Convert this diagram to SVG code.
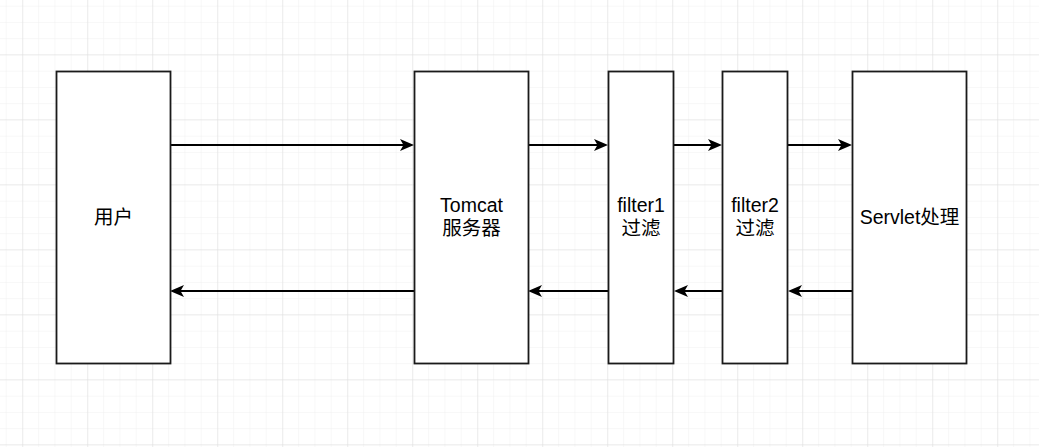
<svg xmlns="http://www.w3.org/2000/svg" width="1039" height="447" viewBox="0 0 1039 447">
  <style>
    .box { fill: #ffffff; stroke: #1a1a1a; stroke-width: 1.8; }
    .lbl { font-family: "Liberation Sans", Arial, "Noto Sans CJK SC", sans-serif; font-size: 19.5px; fill: #000000; text-anchor: middle; }
    .edge { stroke: #000000; stroke-width: 1.8; fill: none; marker-end: url(#arrow); }
  </style>
  <defs>
    <pattern id="minor" width="16.25" height="16.25" patternUnits="userSpaceOnUse" x="5.7" y="5.7">
      <path d="M0,0 H16.25 M0,0 V16.25" stroke="#f0f0f0" stroke-width="1" fill="none"/>
    </pattern>
    <pattern id="major" width="65" height="65" patternUnits="userSpaceOnUse" x="22.3" y="54.3">
      <path d="M0,0 H65 M0,0 V65" stroke="#dedede" stroke-width="1" fill="none"/>
    </pattern>
    <marker id="arrow" markerUnits="userSpaceOnUse" viewBox="0 0 14 12" markerWidth="14" markerHeight="12" refX="10" refY="6" orient="auto">
      <path d="M0,0 L14,6 L0,12 L3.5,6 Z" fill="#000000"/>
    </marker>
  </defs>
  <rect width="1039" height="447" fill="#ffffff"/>
  <rect width="1039" height="447" fill="url(#minor)"/>
  <rect width="1039" height="447" fill="url(#major)"/>

  <g id="connectors">
    <line class="edge" x1="170" y1="145" x2="410" y2="145"/>
    <line class="edge" x1="528" y1="145" x2="604" y2="145"/>
    <line class="edge" x1="674" y1="145" x2="718" y2="145"/>
    <line class="edge" x1="788" y1="145" x2="848" y2="145"/>
    <line class="edge" x1="852" y1="291" x2="792" y2="291"/>
    <line class="edge" x1="722" y1="291" x2="678" y2="291"/>
    <line class="edge" x1="608" y1="291" x2="532" y2="291"/>
    <line class="edge" x1="414" y1="291" x2="174" y2="291"/>
  </g>

  <g id="user">
    <rect class="box" x="56.5" y="71.5" width="114" height="292"/>
    <text class="lbl" x="113.5" y="224">用户</text>
  </g>
  <g id="tomcat">
    <rect class="box" x="414.5" y="71.5" width="114" height="292"/>
    <text class="lbl" x="471.5" y="212">Tomcat</text>
    <text class="lbl" x="471.5" y="235">服务器</text>
  </g>
  <g id="filter1">
    <rect class="box" x="608.5" y="71.5" width="65" height="292"/>
    <text class="lbl" x="641" y="212">filter1</text>
    <text class="lbl" x="641" y="235">过滤</text>
  </g>
  <g id="filter2">
    <rect class="box" x="722.5" y="71.5" width="65" height="292"/>
    <text class="lbl" x="755" y="212">filter2</text>
    <text class="lbl" x="755" y="235">过滤</text>
  </g>
  <g id="servlet">
    <rect class="box" x="852.5" y="71.5" width="114" height="292"/>
    <text class="lbl" x="909.5" y="224">Servlet处理</text>
  </g>
</svg>
